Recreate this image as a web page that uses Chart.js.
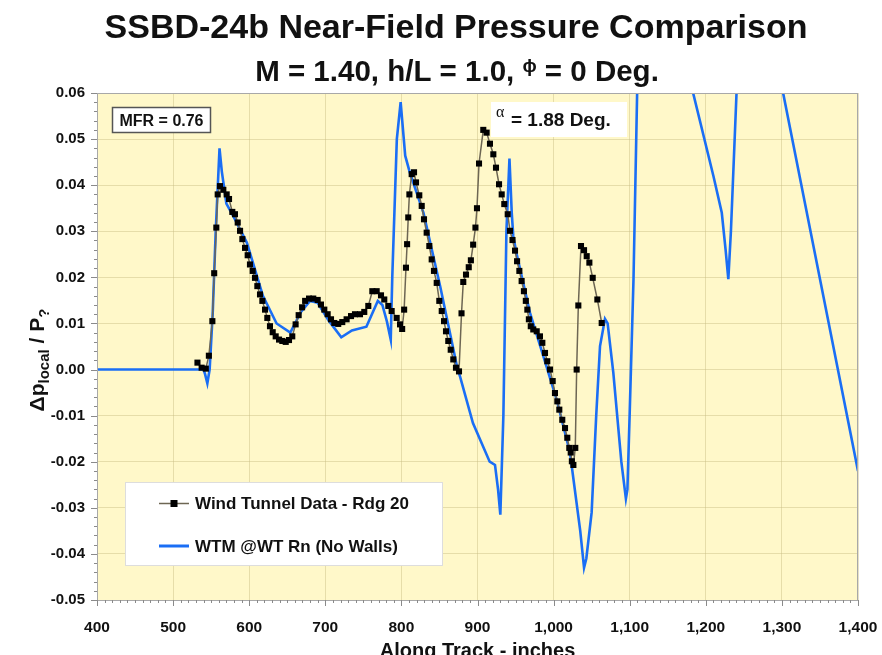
<!DOCTYPE html>
<html>
<head>
<meta charset="utf-8">
<script src="https://cdn.jsdelivr.net/npm/chart.js@4.4.1/dist/chart.umd.min.js"></script>
<style>
  html, body { margin: 0; padding: 0; background: #fff; }
</style>
</head>
<body>
<canvas id="chart" width="882" height="655"></canvas>
<script>
//========================
// Data
//========================
const titleText = 'SSBD-24b Near-Field Pressure Comparison';
const xTicks = [400, 500, 600, 700, 800, 900, 1000, 1100, 1200, 1300, 1400];
const yTicks = [-0.05, -0.04, -0.03, -0.02, -0.01, 0, 0.01, 0.02, 0.03, 0.04, 0.05, 0.06];

// Wind Tunnel Data - Rdg 20
const wtX = [
  532, 537.5, 543, 547, 551.6, 554, 556.8, 558.6, 561.6, 566, 570.4, 573.5, 577.8, 581.3, 584.9,
  588, 591, 594.5, 598, 601, 604.6, 607.6, 610.7, 614.2, 617.3, 620.8, 623.8, 627.3, 630.9, 634.8,
  639.2, 643.5, 648, 652.3, 656.6, 661, 665, 669.5, 673.5, 678.6, 684.2, 690, 694.3, 698.7, 703.1,
  707.5, 711.8, 717, 722.3, 728, 733.8, 739, 745.6, 751.2, 756.5, 761.8, 767.5, 773.2, 777.5, 782.8,
  787.2, 793.8, 798.2, 801, 803.6, 806, 807.5, 809, 810.5, 813.5, 816.6, 819.2, 823.5, 826.7, 829.7,
  833.2, 836.7, 839.8, 842.8, 846.4, 849.8, 853, 856, 858.6, 861.6, 864.8, 868.2, 871.7, 875.7, 879,
  881.3, 884.9, 888.5, 891.3, 894.3, 897.3, 899.3, 902, 907.6, 912, 916.4, 920.8, 924.3, 928.3, 931.8,
  935.2, 939.7, 942.7, 946, 949.3, 952, 955, 958, 961, 963.5, 965.5, 967.5, 970, 973.3, 977.8,
  982.1, 985.2, 988.7, 991.7, 995.3, 998.8, 1001.8, 1004.9, 1007.5, 1011.4, 1015, 1018, 1020.6, 1022.5, 1024,
  1026, 1028.5, 1030.3, 1032.5, 1036, 1040, 1043.5, 1047, 1051.4, 1057.5, 1063.2
];
const wtY = [
  0.0015, 0.0004, 0.0002, 0.003, 0.0105, 0.0209, 0.0308, 0.038, 0.0398, 0.039, 0.038, 0.037, 0.0342, 0.0337, 0.0319,
  0.0301, 0.0283, 0.0264, 0.0248, 0.0228, 0.0214, 0.0199, 0.0181, 0.0163, 0.0149, 0.013, 0.0112, 0.0094, 0.0081, 0.0072,
  0.0065, 0.0062, 0.006, 0.0064, 0.0072, 0.0098, 0.0118, 0.0135, 0.0149, 0.0154, 0.0154, 0.0151, 0.0141, 0.013, 0.012,
  0.0109, 0.0101, 0.0099, 0.0103, 0.0109, 0.0116, 0.012, 0.012, 0.0125, 0.0138, 0.017, 0.017, 0.0161, 0.0152, 0.0138,
  0.0127, 0.0112, 0.0098, 0.0088, 0.013, 0.0221, 0.0272, 0.033, 0.038, 0.0424, 0.0428, 0.0406, 0.0378, 0.0355, 0.0326,
  0.0297, 0.0268, 0.0239, 0.0214, 0.0188, 0.0149, 0.0127, 0.0105, 0.0083, 0.0062, 0.0043, 0.0022, 0.0004, -0.0004, 0.0122,
  0.019, 0.0206, 0.0222, 0.0237, 0.0271, 0.0308, 0.035, 0.0447, 0.052, 0.0514, 0.049, 0.0467, 0.0438, 0.0402, 0.038,
  0.0359, 0.0337, 0.0301, 0.0281, 0.0258, 0.0235, 0.0214, 0.0192, 0.017, 0.0149, 0.013, 0.0109, 0.0094, 0.0087, 0.0083,
  0.0072, 0.0058, 0.0036, 0.0018, 0.0, -0.0025, -0.0051, -0.0069, -0.0087, -0.0109, -0.0127, -0.0148, -0.017, -0.018, -0.0199,
  -0.0207, -0.017, 0.0, 0.0139, 0.0268, 0.0259, 0.0246, 0.0232, 0.0199, 0.0152, 0.0101
];

// WTM @WT Rn (No Walls)
const wtmX = [
  400, 540, 542, 545, 548, 552, 556, 561, 564, 570, 580, 597, 618, 636, 654, 668, 680, 690, 705, 721,
  735, 754, 769, 775, 781, 786, 788, 794, 799, 805, 811, 829, 851, 873, 877, 894, 916, 923, 927, 930,
  934, 938, 942, 945, 947, 951, 969, 986.5, 1004, 1021.5, 1035, 1040, 1043, 1050, 1056, 1061, 1067.5, 1071, 1078.5, 1089,
  1095, 1097, 1100, 1105, 1110, 1146, 1182.6, 1210, 1221, 1226, 1229.6, 1233, 1240.5, 1270, 1301, 1400
];
const wtmY = [
  0, 0, -0.001, -0.003, 0.0, 0.012, 0.03, 0.048, 0.043, 0.036, 0.033, 0.0275, 0.016, 0.01, 0.008, 0.0125, 0.0149, 0.0145, 0.0105, 0.007,
  0.0085, 0.0093, 0.0149, 0.014, 0.0104, 0.0065, 0.02, 0.05, 0.058, 0.0464, 0.0428, 0.034, 0.018, 0.0007, -0.0015, -0.0116, -0.02, -0.0207, -0.026, -0.0315,
  -0.01, 0.03, 0.0458, 0.034, 0.029, 0.0254, 0.0123, 0.0029, -0.0065, -0.018, -0.035, -0.043, -0.041, -0.031, -0.01, 0.0051, 0.011, 0.01, -0.0007, -0.02,
  -0.028, -0.026, -0.0094, 0.0196, 0.062, 0.13, 0.0605, 0.042, 0.034, 0.026, 0.0196, 0.03, 0.0605, 0.12, 0.0605, -0.022
];

const seriesNames = ['Wind Tunnel Data - Rdg 20', 'WTM @WT Rn (No Walls)'];

const PLOT_BG = '#fff8c9';
const BLUE = '#1a6ef5';
const WT_LINE = '#6d6653';
const FONT = '"Liberation Sans", Arial, sans-serif';

const toPoints = (xs, ys) => xs.map((x, i) => ({ x: x, y: ys[i] }));

//========================
// Extra drawing: titles, boxes, legend, minor ticks
//========================
function drawSubText(ctx, parts, x, y) {
  // parts: [text, fontSize, dy]
  let total = 0;
  parts.forEach(p => {
    ctx.font = 'bold ' + p[1] + 'px ' + FONT;
    total += ctx.measureText(p[0]).width;
  });
  let cx = x - total / 2;
  parts.forEach(p => {
    ctx.font = 'bold ' + p[1] + 'px ' + FONT;
    ctx.fillText(p[0], cx, y + p[2]);
    cx += ctx.measureText(p[0]).width;
  });
}

const decor = {
  id: 'decor',
  beforeDraw(chart) {
    const { ctx, chartArea: a } = chart;
    ctx.save();
    ctx.fillStyle = PLOT_BG;
    ctx.fillRect(a.left, a.top, a.right - a.left, a.bottom - a.top);
    ctx.restore();
  },
  afterDatasetsDraw(chart) {
    const { ctx, chartArea: a, scales } = chart;
    ctx.save();

    // plot frame
    ctx.strokeStyle = '#a8a8a8';
    ctx.lineWidth = 1;
    ctx.strokeRect(a.left + 0.5, a.top + 0.5, a.right - a.left - 1, a.bottom - a.top);

    // minor ticks
    ctx.strokeStyle = '#8a8a8a';
    ctx.beginPath();
    for (let v = 400; v <= 1400; v += 10) {
      const px = Math.round(scales.x.getPixelForValue(v)) + 0.5;
      const len = v % 100 === 0 ? 6 : 3;
      ctx.moveTo(px, a.bottom);
      ctx.lineTo(px, a.bottom + len);
    }
    for (let k = -25; k <= 30; k++) {
      const v = k * 0.002;
      const py = Math.round(scales.y.getPixelForValue(v)) + 0.5;
      const len = k % 5 === 0 ? 6 : 3;
      ctx.moveTo(a.left, py);
      ctx.lineTo(a.left - len, py);
    }
    ctx.stroke();

    // MFR box
    ctx.fillStyle = '#ffffff';
    ctx.fillRect(112, 107, 99, 26);
    ctx.strokeStyle = '#555';
    ctx.lineWidth = 1.5;
    ctx.strokeRect(112.5, 107.5, 98, 25);
    ctx.fillStyle = '#111';
    ctx.textAlign = 'center';
    ctx.textBaseline = 'alphabetic';
    ctx.font = 'bold 16px ' + FONT;
    ctx.fillText('MFR = 0.76', 161.5, 126);

    // alpha box
    ctx.fillStyle = '#ffffff';
    ctx.fillRect(491, 102, 136, 35);
    ctx.fillStyle = '#111';
    ctx.textAlign = 'left';
    ctx.font = '16px "Liberation Serif", serif';
    ctx.fillText('α', 496, 117);
    ctx.font = 'bold 19px ' + FONT;
    ctx.fillText('= 1.88 Deg.', 511, 126);

    // legend
    ctx.fillStyle = '#ffffff';
    ctx.fillRect(125, 482, 318, 84);
    ctx.strokeStyle = '#dddddd';
    ctx.lineWidth = 1;
    ctx.strokeRect(125.5, 482.5, 317, 83);

    ctx.strokeStyle = WT_LINE;
    ctx.lineWidth = 1.5;
    ctx.beginPath();
    ctx.moveTo(159, 503.5);
    ctx.lineTo(189, 503.5);
    ctx.stroke();
    ctx.fillStyle = '#000';
    ctx.fillRect(170.5, 500, 7, 7);

    ctx.strokeStyle = BLUE;
    ctx.lineWidth = 3;
    ctx.beginPath();
    ctx.moveTo(159, 546);
    ctx.lineTo(189, 546);
    ctx.stroke();

    ctx.fillStyle = '#111';
    ctx.font = 'bold 17px ' + FONT;
    ctx.fillText(seriesNames[0], 195, 509);
    ctx.fillText(seriesNames[1], 195, 552);
    ctx.restore();
  },
  afterDraw(chart) {
    const { ctx, chartArea: a } = chart;
    ctx.save();
    ctx.fillStyle = '#111';
    ctx.textAlign = 'center';
    ctx.textBaseline = 'alphabetic';
    ctx.font = 'bold 34px ' + FONT;
    ctx.fillText(titleText, 456, 38);

    ctx.textAlign = 'left';
    drawSubText(ctx, [
      ['M = 1.40, h/L = 1.0, ', 29.5, 0],
      ['ϕ', 19, -9],
      [' = 0 Deg.', 29.5, 0]
    ], 457, 81);

    // x axis title
    ctx.textAlign = 'center';
    ctx.font = 'bold 20px ' + FONT;
    ctx.fillText('Along Track - inches', (a.left + a.right) / 2, 657);

    // y axis title
    ctx.translate(44, 360);
    ctx.rotate(-Math.PI / 2);
    ctx.textAlign = 'left';
    drawSubText(ctx, [
      ['Δp', 21, 0],
      ['local', 15, 5],
      [' / P', 21, 0],
      ['?', 15, 5]
    ], 0, 0);
    ctx.restore();
  }
};

//========================
// Chart
//========================
const ctx = document.getElementById('chart').getContext('2d');

new Chart(ctx, {
  type: 'scatter',
  data: {
    datasets: [
      {
        label: seriesNames[0],
        data: toPoints(wtX, wtY),
        showLine: true,
        borderColor: WT_LINE,
        borderWidth: 1.5,
        pointStyle: 'rect',
        pointRadius: 4.3,
        pointBackgroundColor: '#000',
        pointBorderColor: '#000',
        pointBorderWidth: 0,
        tension: 0
      },
      {
        label: seriesNames[1],
        data: toPoints(wtmX, wtmY),
        showLine: true,
        borderColor: BLUE,
        borderWidth: 2.6,
        pointRadius: 0,
        tension: 0
      }
    ]
  },
  options: {
    responsive: false,
    animation: false,
    events: [],
    layout: { padding: { top: 93, right: 24, left: 0, bottom: 0 } },
    plugins: {
      legend: { display: false },
      title: { display: false },
      tooltip: { enabled: false }
    },
    scales: {
      x: {
        type: 'linear',
        min: xTicks[0],
        max: xTicks[xTicks.length - 1],
        afterFit: s => { s.height = 55; s.paddingLeft = 0; s.paddingRight = 0; },
        afterBuildTicks: s => { s.ticks = xTicks.map(v => ({ value: v })); },
        grid: { color: 'rgba(200,188,130,0.45)', drawTicks: false },
        border: { color: '#999' },
        ticks: {
          autoSkip: false,
          maxRotation: 0,
          padding: 18,
          color: '#111',
          font: { family: FONT, size: 15.5, weight: 'bold' },
          callback: v => v.toLocaleString('en-US')
        }
      },
      y: {
        type: 'linear',
        min: yTicks[0],
        max: yTicks[yTicks.length - 1],
        afterFit: s => { s.width = 97; s.paddingTop = 0; s.paddingBottom = 0; },
        afterBuildTicks: s => { s.ticks = yTicks.map(v => ({ value: v })); },
        grid: { color: 'rgba(200,188,130,0.45)', drawTicks: false },
        border: { color: '#999' },
        ticks: {
          padding: 12,
          color: '#111',
          font: { family: FONT, size: 15, weight: 'bold' },
          callback: v => (Math.abs(v) < 1e-9 ? 0 : v).toFixed(2)
        }
      }
    }
  },
  plugins: [decor]
});
</script>
</body>
</html>
